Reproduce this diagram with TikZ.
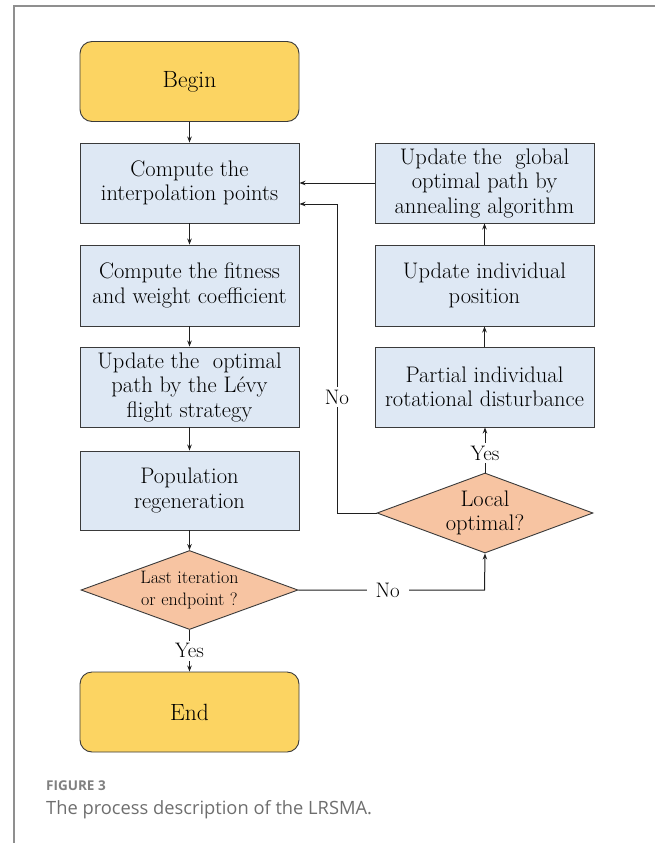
\documentclass[tikz,border=0pt]{standalone}
\usepackage{fontspec}
\newfontfamily\capfont{Open Sans}
\usetikzlibrary{shapes.geometric,arrows.meta}
\definecolor{termyellow}{HTML}{FCD462}
\definecolor{boxblue}{HTML}{DEE8F4}
\definecolor{decpeach}{HTML}{F7C4A2}
\definecolor{linegray}{HTML}{3A3A3A}
\definecolor{framegray}{HTML}{8F8F8F}
\definecolor{figgray}{HTML}{808080}
\definecolor{capgray}{HTML}{6E6E6E}
\begin{document}
\begin{tikzpicture}[x=1pt,y=-1pt,
  every node/.style={inner sep=0pt},
  boxtext/.style={font=\fontsize{22.5}{24.5}\selectfont, align=center},
  procbox/.style={rectangle, draw=linegray, fill=boxblue, line width=0.9pt,
    minimum width=219pt, minimum height=80pt, boxtext},
  termbox/.style={procbox, fill=termyellow, rounded corners=12pt, font=\fontsize{23.5}{26}\selectfont},
  decision/.style={diamond, draw=linegray, fill=decpeach, line width=0.9pt,
    minimum width=217pt, minimum height=79pt, aspect=2.7, boxtext},
  arr/.style={draw=black!88, line width=1pt, -{Stealth[length=6pt,width=4.5pt]}},
  lab/.style={fill=white, font=\fontsize{21}{24}\selectfont, inner sep=2.5pt},
  labh/.style={lab, inner xsep=9pt}]
\useasboundingbox (0,0) rectangle (655,843);
% frame
\draw[framegray, line width=1.6pt] (14,843) -- (14,6) -- (655,6);
% left column
\node[termbox] (begin) at (189.5,81.5) {Begin};
\node[procbox] (interp) at (189.5,183) {Compute the\\interpolation points};
\node[procbox, minimum height=81pt] (fit) at (189.5,285.5) {Compute the fitness\\and weight coefficient};
\node[procbox] (levy) at (189.5,387) {Update the \ optimal\\path by the Lévy\\flight strategy};
\node[procbox, minimum height=79pt] (pop) at (189.5,490.5) {Population\\regeneration};
\node[decision, font=\fontsize{18}{22}\selectfont] (last) at (189.5,590) {Last iteration\\or endpoint ?};
\node[termbox] (end) at (189.5,712) {End};
% right column
\node[procbox] (glob) at (484.5,183) {Update the \ global\\optimal path by\\annealing algorithm};
\node[procbox, minimum height=81pt] (indiv) at (484.5,285.5) {Update individual\\position};
\node[procbox] (part) at (484.5,387) {Partial individual\\rotational disturbance};
\node[decision, minimum width=216pt, minimum height=80pt] (local) at (485,513) {Local\\optimal?};
% connectors
\draw[arr] (begin.south) -- (interp.north);
\draw[arr] (interp.south) -- (fit.north);
\draw[arr] (fit.south) -- (levy.north);
\draw[arr] (levy.south) -- (pop.north);
\draw[arr] (pop.south) -- (last.north);
\draw[arr] (last.south) -- node[lab] {Yes} (end.north);
\draw[arr] (local.north) -- node[lab, pos=0.43] {Yes} (local.north |- part.south);
\draw[arr] (part.north) -- (indiv.south);
\draw[arr] (indiv.north) -- (glob.south);
\draw[arr] (glob.west) -- (interp.east);
\coordinate (lpA) at (337,513);
\coordinate (lpB) at (337,204);
\draw[arr] (local.west) -- (lpA) -- node[lab, pos=0.375] {No} (lpB) -- (lpB -| interp.east);
\coordinate (lpC) at (484.5,590);
\draw[arr] (last.east) -- node[labh, pos=0.48] {No} (lpC) -- (local.south);
% caption
\node[anchor=base west, font=\capfont\bfseries\fontsize{13.5}{16}\selectfont, text=figgray] (fig) at (46,790) {FIGURE 3};
\node[anchor=base west, font=\capfont\fontsize{18.3}{22}\selectfont, text=capgray] (cap) at (46,814) {The process description of the LRSMA.};
\end{tikzpicture}
\end{document}
